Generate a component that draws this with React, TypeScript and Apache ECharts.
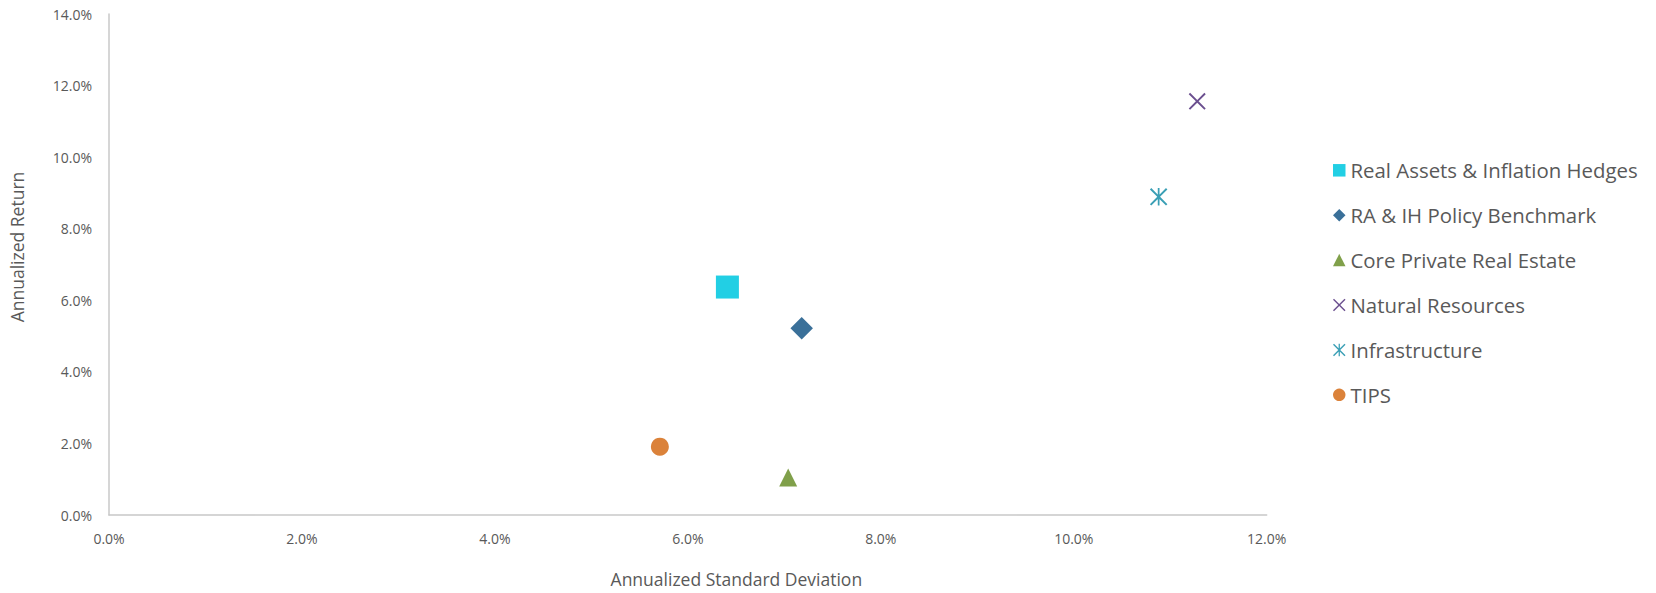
import React, { useEffect, useRef } from "react";
import * as echarts from "echarts";

// Risk / return by asset class (values in percent)
const seriesNames = [
  "Real Assets & Inflation Hedges",
  "RA & IH Policy Benchmark",
  "Core Private Real Estate",
  "Natural Resources",
  "Infrastructure",
  "TIPS",
];
const stdDev = [6.41, 7.18, 7.04, 11.28, 10.88, 5.71];
const annReturn = [6.37, 5.22, 1.05, 11.56, 8.89, 1.91];
const colors = ["#22CFE4", "#3A7099", "#80A04A", "#6B4F8F", "#3A9FB5", "#DB823A"];

const xTicks = [0, 2, 4, 6, 8, 10, 12];
const yTicks = [0, 2, 4, 6, 8, 10, 12, 14];

// Cross and asterisk marker outlines (filled shapes)
const CROSS =
  "path://M8 0 L50 42 L92 0 L100 8 L58 50 L100 92 L92 100 L50 58 L8 100 L0 92 L42 50 L0 8 Z";
const ASTERISK =
  "path://M8 0 L50 42 L92 0 L100 8 L58 50 L100 92 L92 100 L50 58 L8 100 L0 92 L42 50 L0 8 Z M45 0 L55 0 L55 100 L45 100 Z";

const symbols = ["rect", "diamond", "triangle", CROSS, ASTERISK, "circle"];
const symbolSizes = [23, 22.5, 18, 17, 17.5, 18];

const FONT = "'Open Sans', 'Noto Sans', sans-serif";
const TEXT = "#595959";

export default function App() {
  const ref = useRef<HTMLDivElement>(null);

  useEffect(() => {
    if (!ref.current) return;
    const chart = echarts.init(ref.current, undefined, { renderer: "svg" });

    const series = seriesNames.map((name, i) => ({
      name,
      type: "scatter",
      data: [[stdDev[i], annReturn[i]]],
      symbol: symbols[i],
      symbolSize: symbolSizes[i],
      itemStyle: { color: colors[i], opacity: 1 },
      emphasis: { disabled: true },
    }));

    chart.setOption({
      animation: false,
      backgroundColor: "#ffffff",
      textStyle: { fontFamily: FONT },
      grid: { left: 103.3, right: 389.3, top: 14, bottom: 73.7, containLabel: false },
      xAxis: {
        type: "value",
        min: xTicks[0],
        max: xTicks[xTicks.length - 1],
        interval: 2,
        name: "Annualized Standard Deviation",
        nameLocation: "middle",
        nameGap: 55,
        nameTextStyle: { color: TEXT, fontSize: 17.5, fontFamily: FONT, padding: [0, 0, 0, 97] },
        axisLine: { show: true, lineStyle: { color: "#C8C8C8", width: 1.5 } },
        axisTick: { show: false },
        splitLine: { show: false },
        axisLabel: {
          color: TEXT,
          fontSize: 14,
          margin: 16,
          fontFamily: FONT,
          formatter: (v: number) => v.toFixed(1) + "%",
        },
      },
      yAxis: {
        type: "value",
        min: yTicks[0],
        max: yTicks[yTicks.length - 1],
        interval: 2,
        name: "Annualized Return",
        nameLocation: "middle",
        nameGap: 83,
        nameRotate: 90,
        nameTextStyle: { color: TEXT, fontSize: 17.5, fontFamily: FONT, padding: [0, 0, 0, 35] },
        axisLine: { show: true, lineStyle: { color: "#C8C8C8", width: 1.5 } },
        axisTick: { show: false },
        splitLine: { show: false },
        axisLabel: {
          color: TEXT,
          fontSize: 14,
          margin: 17,
          fontFamily: FONT,
          formatter: (v: number) => v.toFixed(1) + "%",
        },
      },
      legend: {
        orient: "vertical",
        left: 1328,
        top: 153.3,
        itemWidth: 12.5,
        itemHeight: 12.5,
        itemGap: 20.9,
        selectedMode: false,
        textStyle: { color: TEXT, fontSize: 20.4, fontFamily: FONT, lineHeight: 24 },
        data: seriesNames.map((name, i) => ({
          name,
          icon: symbols[i],
          itemStyle: { color: colors[i] },
        })),
      },
      series,
    });

    return () => chart.dispose();
  }, []);

  return (
    <div
      ref={ref}
      style={{ position: "fixed", left: 0, top: 0, width: 1656, height: 593, background: "#fff" }}
    />
  );
}
